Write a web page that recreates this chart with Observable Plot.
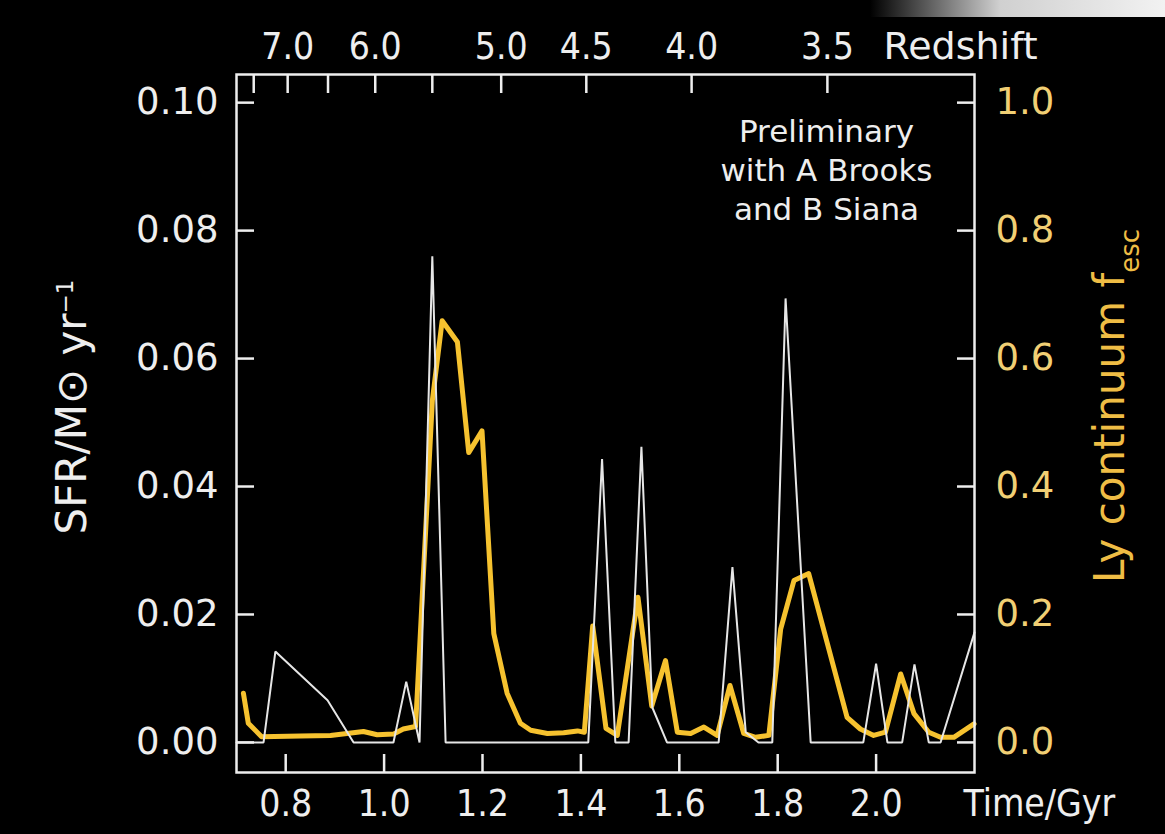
<!DOCTYPE html>
<html><head><meta charset="utf-8">
<script src="https://cdn.jsdelivr.net/npm/d3@7"></script>
<script src="https://cdn.jsdelivr.net/npm/@observablehq/plot@0.6"></script>
<style>
html,body{margin:0;padding:0;background:#000;}
#chart{position:relative;width:1165px;height:834px;overflow:hidden;background:#000;}
#strip{position:absolute;left:0;top:0;width:1165px;height:17px;background:linear-gradient(to right, rgba(0,0,0,0) 0px, rgba(0,0,0,0) 870px, #d0d0d0 1000px, #f2f2f2 1165px);}
#chart svg{position:absolute;left:0;top:0;}
</style></head><body><div id="chart"><div id="strip"></div></div>
<script>
// White line: star formation rate (left axis, Msun/yr)
const sfrTime  = [0.700, 0.755, 0.779, 0.885, 0.938, 1.019, 1.045, 1.072, 1.098, 1.125, 1.415, 1.443, 1.470, 1.497, 1.523, 1.545, 1.575, 1.680, 1.708, 1.735, 1.761, 1.789, 1.816, 1.867, 1.974, 2.000, 2.023, 2.053, 2.078, 2.107, 2.131, 2.200];
const sfrValue = [0, 0, 0.0142, 0.0066, 0, 0, 0.0095, 0, 0.0760, 0, 0, 0.0443, 0, 0, 0.0462, 0.0055, 0, 0, 0.0274, 0.0016, 0, 0, 0.0694, 0, 0, 0.0123, 0, 0, 0.0122, 0, 0, 0.0172];
// Yellow line: Lyman continuum escape fraction (right axis)
const fescTime  = [0.714, 0.724, 0.751, 0.830, 0.891, 0.958, 0.986, 1.019, 1.039, 1.064, 1.098, 1.118, 1.149, 1.172, 1.199, 1.223, 1.250, 1.277, 1.298, 1.332, 1.365, 1.393, 1.407, 1.424, 1.451, 1.474, 1.516, 1.544, 1.572, 1.596, 1.623, 1.650, 1.677, 1.703, 1.731, 1.755, 1.782, 1.806, 1.833, 1.863, 1.941, 1.968, 1.995, 2.019, 2.050, 2.077, 2.107, 2.131, 2.158, 2.199];
const fescValue = [0.077, 0.030, 0.009, 0.010, 0.011, 0.017, 0.012, 0.013, 0.021, 0.025, 0.534, 0.659, 0.626, 0.453, 0.487, 0.170, 0.077, 0.030, 0.019, 0.014, 0.015, 0.018, 0.016, 0.182, 0.022, 0.011, 0.227, 0.057, 0.128, 0.016, 0.014, 0.024, 0.011, 0.089, 0.014, 0.008, 0.011, 0.177, 0.253, 0.264, 0.039, 0.021, 0.011, 0.016, 0.107, 0.045, 0.016, 0.008, 0.008, 0.029];

const timeTicks = [0.8, 1.0, 1.2, 1.4, 1.6, 1.8, 2.0];
const sfrTicks  = [0, 0.02, 0.04, 0.06, 0.08, 0.10];
const fescTicks = [0, 0.2, 0.4, 0.6, 0.8, 1.0];
const zTickTimes  = [0.735, 0.804, 0.886, 0.982, 1.098, 1.238, 1.411, 1.625, 1.901];
const zTickLabels = ["", "7.0", "", "6.0", "", "5.0", "4.5", "4.0", "3.5"];
const noteText = "Preliminary\nwith A Brooks\nand B Siana";

const FESC_TO_SFR = 0.1; // right axis 1.0 aligns with left axis 0.10
const sfr = sfrTime.map((t, i) => ({t, v: sfrValue[i]}));
const fesc = fescTime.map((t, i) => ({t, v: fescValue[i]}));

const white = "#eeeeee";
const gold = "#f6c22f";
const paleGold = "#f1cf74";
const sans = "DejaVu Sans";
const cond = "'DejaVu Sans Condensed', 'DejaVu Sans'";

const plot = Plot.plot({
  width: 1165, height: 834,
  marginLeft: 236, marginRight: 191, marginTop: 74, marginBottom: 62,
  style: {background: "transparent", color: white, fontFamily: sans},
  x: {domain: [0.7, 2.2]},
  y: {domain: [-0.0047, 0.1044]},
  marks: [
    Plot.line(fesc, {x: "t", y: d => d.v * FESC_TO_SFR, stroke: gold, strokeWidth: 5, strokeLinejoin: "round", strokeLinecap: "round"}),
    Plot.line(sfr, {x: "t", y: "v", stroke: "#e6e6e6", strokeWidth: 2, strokeLinejoin: "miter"}),
    Plot.frame({stroke: white, strokeWidth: 2.5}),
    Plot.axisX({anchor: "bottom", ticks: timeTicks, tickSize: -18, tickPadding: 35, strokeWidth: 2.5, stroke: white, fill: white,
      tickFormat: d => d.toFixed(1), fontSize: 37, fontFamily: cond, label: null}),
    Plot.axisX({anchor: "top", ticks: zTickTimes, tickSize: -18, tickPadding: 34, strokeWidth: 2.5, stroke: white, fill: white,
      tickFormat: d => { const i = zTickTimes.indexOf(d); return i >= 0 ? zTickLabels[i] : ""; }, fontSize: 37, fontFamily: cond, label: null}),
    Plot.axisY({anchor: "left", ticks: sfrTicks, tickSize: -18, tickPadding: 36, strokeWidth: 2.5, stroke: white, fill: white,
      tickFormat: d => d.toFixed(2), fontSize: 37, fontFamily: sans, label: null}),
    Plot.axisY({anchor: "right", ticks: fescTicks.map(v => v * FESC_TO_SFR), tickSize: -18, tickPadding: 39, strokeWidth: 2.5, stroke: white, fill: paleGold,
      tickFormat: d => (d / FESC_TO_SFR).toFixed(1), fontSize: 37, fontFamily: sans, label: null}),
    Plot.text(["Redshift"], {frameAnchor: "top-right", textAnchor: "start", lineAnchor: "bottom", dx: -91, dy: -16, fontSize: 38, fontFamily: sans, fill: white}),
    Plot.text(["Time/Gyr"], {frameAnchor: "bottom-right", textAnchor: "start", lineAnchor: "top", dx: -11, dy: 17, fontSize: 37, fontFamily: cond, fill: white}),
    Plot.text([noteText], {frameAnchor: "top-right", textAnchor: "middle", lineAnchor: "middle", dx: -148, dy: 94, lineHeight: 1.27, fontSize: 31, fontFamily: sans, fill: white})
  ]
});

const svg = d3.select(plot);
const lt = svg.append("text")
  .attr("transform", "translate(86,407) rotate(-90)")
  .attr("text-anchor", "middle")
  .attr("font-family", sans).attr("font-size", 42).attr("fill", white);
lt.append("tspan").text("SFR/M\u2299 yr");
lt.append("tspan").attr("baseline-shift", "super").attr("font-size", 23).text("\u22121");

const rt = svg.append("text")
  .attr("transform", "translate(1124,406) rotate(-90)")
  .attr("text-anchor", "middle")
  .attr("font-family", sans).attr("font-size", 42).attr("fill", "#efbd45");
rt.append("tspan").text("Ly continuum f");
rt.append("tspan").attr("baseline-shift", "sub").attr("font-size", 26).text("esc");

document.getElementById("chart").appendChild(plot);
</script>
</body></html>
